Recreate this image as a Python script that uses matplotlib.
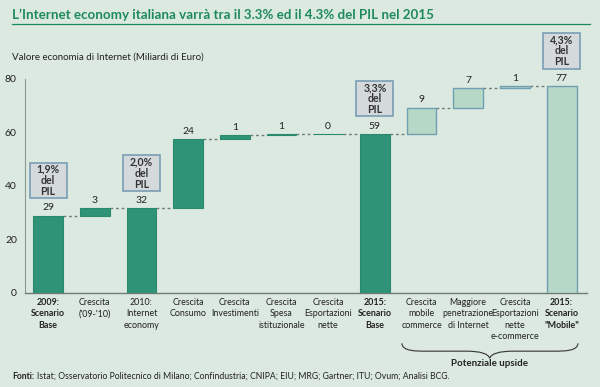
import matplotlib
matplotlib.use("Agg")
import matplotlib.pyplot as plt
from matplotlib.patches import Rectangle, PathPatch
from matplotlib.path import Path
import matplotlib.transforms as mtransforms

# --- data ---
categories = [
    "2009:\nScenario\nBase", "Crescita\n('09-'10)", "2010:\nInternet\neconomy",
    "Crescita\nConsumo", "Crescita\nInvestimenti", "Crescita\nSpesa\nistituzionale",
    "Crescita\nEsportazioni\nnette", "2015:\nScenario\nBase", "Crescita\nmobile\ncommerce",
    "Maggiore\npenetrazione\ndi Internet", "Crescita\nEsportazioni\nnette\ne-commerce",
    "2015:\nScenario\n\"Mobile\"",
]
value_labels = ["29", "3", "32", "24", "1", "1", "0", "59", "9", "7", "1", "77"]
# step heights (None = total bar, drawn from zero up to the running total)
steps = [28.9, 2.7, None, 25.8, 1.5, 0.5, 0.1, None, 9.8, 7.4, 0.7, None]
upside = [False] * 8 + [True] * 4
bold_labels = [0, 7, 11]
pil_boxes = {0: "1,9%\ndel\nPIL", 2: "2,0%\ndel\nPIL", 7: "3,3%\ndel\nPIL", 11: "4,3%\ndel\nPIL"}

BG = "#dce9e0"
DARK = "#2f9477"
LIGHT = "#b6d8c6"
LIGHT_EDGE = "#6f9fb0"
GREEN_TXT = "#1d8a5c"
FONT = "Lato"

plt.rcParams["font.family"] = [FONT, "DejaVu Sans"]

fig = plt.figure(figsize=(6, 3.87), dpi=100, facecolor=BG)
ax = fig.add_axes([0.042, 0.243, 0.936, 0.553])
ax.set_facecolor(BG)

width = 0.64
running = 0.0
tops = []
for i, s in enumerate(steps):
    if s is None:
        bottom, height = 0.0, running
    else:
        bottom, height = running, s
        running += s
    top = bottom + height
    tops.append(top)
    if upside[i]:
        ax.bar(i, height, width, bottom=bottom, color=LIGHT, edgecolor=LIGHT_EDGE, linewidth=1, zorder=3)
    else:
        ax.bar(i, height, width, bottom=bottom, color=DARK, edgecolor="#2a8a6e", linewidth=0.8, zorder=3)
    ax.text(i, top + 1.2, value_labels[i], ha="center", va="bottom", fontsize=7.5, color="#222222", zorder=4)

# dashed connectors between consecutive bars
for i in range(len(steps) - 1):
    ax.plot([i + width / 2, i + 1 - width / 2], [tops[i], tops[i]], ls=(0, (2, 2)),
            color="#6f7c78", lw=1, zorder=2)

# "% del PIL" boxes
bw, bh = 0.79, 13.3
for i, txt in pil_boxes.items():
    b0 = tops[i] + 6.5
    ax.add_patch(Rectangle((i - bw / 2, b0), bw, bh, facecolor="#d4d9db", edgecolor="#7b9db5",
                           linewidth=1.2, clip_on=False, zorder=5))
    ax.text(i, b0 + bh / 2, txt, ha="center", va="center", fontsize=7.6, fontweight="bold",
            linespacing=1.02, color="#333333", zorder=6, clip_on=False)

ax.set_xlim(-0.49, 11.54)
ax.set_ylim(0, 80)
ax.set_yticks([0, 20, 40, 60, 80])
ax.tick_params(axis="y", length=0, pad=6, labelsize=7.5, labelcolor="#222222")
ax.set_xticks(range(len(categories)))
ax.set_xticklabels(categories, fontsize=6.4, linespacing=1.35, color="#222222")
ax.tick_params(axis="x", length=0, pad=3.5)
for i, lbl in enumerate(ax.get_xticklabels()):
    if i in bold_labels:
        lbl.set_fontweight("bold")
for side in ["top", "right"]:
    ax.spines[side].set_visible(False)
ax.spines["left"].set_color("#8c9893")
ax.spines["left"].set_linewidth(0.8)
ax.spines["bottom"].set_color("#6e7b76")
ax.spines["bottom"].set_linewidth(1)

# brace under the upside categories
trans = mtransforms.blended_transform_factory(ax.transData, ax.transAxes)
x0, x1, xm = 7.58, 11.35, 9.46
ya, yb, yc = -0.235, -0.272, -0.305
verts = [(x0, ya), (x0, yb), (x0 + 0.3, yb), (x0 + 0.5, yb),
         (xm - 0.5, yb), (xm - 0.05, yb), (xm, yc),
         (xm + 0.05, yb), (xm + 0.5, yb), (x1 - 0.5, yb),
         (x1 - 0.3, yb), (x1, yb), (x1, ya)]
codes = [Path.MOVETO, Path.CURVE4, Path.CURVE4, Path.LINETO,
         Path.LINETO, Path.CURVE3, Path.CURVE3,
         Path.CURVE3, Path.CURVE3, Path.LINETO,
         Path.CURVE4, Path.CURVE4, Path.CURVE4]
ax.add_patch(PathPatch(Path(verts, codes), transform=trans, facecolor="none",
                       edgecolor="#333333", lw=0.8, clip_on=False))
ax.text(xm, -0.33, "Potenziale upside", transform=trans, ha="center", va="center",
        fontsize=7, fontweight="bold", color="#222222")

# title, subtitle, sources
fig.text(0.02, 0.961, "L\u2019Internet economy italiana varrà tra il 3.3% ed il 4.3% del PIL nel 2015",
         fontsize=9.6, fontweight="bold", color=GREEN_TXT, va="center")
fig.add_artist(plt.Line2D([0.02, 0.983], [0.938, 0.938], color=GREEN_TXT, lw=0.9))
fig.text(0.02, 0.853, "Valore economia di Internet (Miliardi di Euro)", fontsize=7,
         color="#222222", va="center")
t = fig.text(0.02, 0.028, "Fonti:", fontsize=6.2, fontweight="bold", color="#222222", va="center")
fig.canvas.draw()
bb = t.get_window_extent().transformed(fig.transFigure.inverted())
fig.text(bb.x1 + 0.004, 0.028,
         "Istat; Osservatorio Politecnico di Milano; Confindustria; CNIPA; EIU; MRG; Gartner; ITU; Ovum; Analisi BCG.",
         fontsize=6.2, color="#222222", va="center")

fig.savefig("out.png", dpi=100, facecolor=BG)
